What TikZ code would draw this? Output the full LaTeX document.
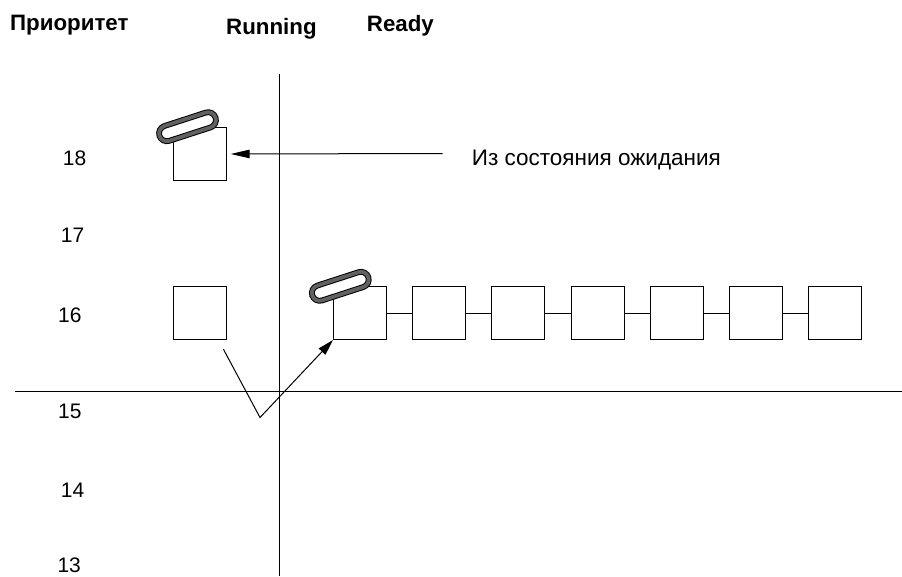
\documentclass[tikz,border=0pt]{standalone}
\usepackage{fontspec}
\setmainfont{Liberation Sans}
\usetikzlibrary{arrows.meta}
\begin{document}
\begin{tikzpicture}[x=1pt,y=-1pt,
  label/.style={inner sep=0pt,anchor=base west,font=\fontsize{22.5}{26}\selectfont},
  level/.style={inner sep=0pt,anchor=base west,font=\fontsize{21}{24}\selectfont},
  head/.style={label,font=\fontsize{22.3}{26}\selectfont\bfseries},
  axis/.style={line width=1.3pt},
  task/.style={draw,line width=1pt,minimum size=53pt,inner sep=0pt,anchor=north west},
  link/.style={line width=1pt},
  token/.style={draw=black,double=black!62,line width=1pt,double distance=3.8pt,
    fill=white,rounded corners=7.8pt,minimum width=59pt,minimum height=15.6pt,
    inner sep=0pt,rotate=18},
  arr/.style={line width=1pt,-{Triangle[length=19pt,width=8.5pt]}},
]
\useasboundingbox (0,0) rectangle (902,576);

% column headings
\node[head] (hprio) at (10,30) {Приоритет};
\node[head] (hrun) at (226,34.3) {Running};
\node[head] (hready) at (366.7,31) {Ready};

% priority levels
\node[level] (p18) at (62.7,165) {18};
\node[level] (p17) at (60.7,242.3) {17};
\node[level] (p16) at (58,322.7) {16};
\node[level] (p15) at (58,418.3) {15};
\node[level] (p14) at (60.7,497.3) {14};
\node[level] (p13) at (57.3,572) {13};

% axes
\coordinate (vtop) at (279.3,74.3);
\coordinate (vbot) at (279.3,576);
\coordinate (hleft) at (15,391.7);
\coordinate (hright) at (902,391.7);
\draw[axis] (vtop) -- (vbot);
\draw[axis] (hleft) -- (hright);

% threads
\node[task] (s18) at (173,127) {};
\node[task] (run16) at (173,286) {};
\foreach \i in {1,...,7} {
  \node[task] (r\i) at ({333+(\i-1)*79.17},286) {};
}
\foreach \i [evaluate=\i as \j using int(\i+1)] in {1,...,6} {
  \draw[link] (r\i.east) -- (r\j.west);
}

% quantum tokens
\node[token] (tok1) at (187.5,126.7) {};
\node[token] (tok2) at (340.3,286.3) {};

% thread returning from the wait state
\node[label] (wait) at (471.7,165) {Из состояния ожидания};
\coordinate (waitsrc) at (442.7,153.5);
\draw[arr] (waitsrc) -- ([xshift=3.7pt]s18.east);

% preemption: running thread moves to the ready queue
\coordinate (vstart) at (223.3,349);
\coordinate (vbend) at (260,417.5);
\draw[line width=1pt,-{Triangle[length=16pt,width=9pt]}] (vstart) -- (vbend) -- (r1.south west);
\end{tikzpicture}
\end{document}
